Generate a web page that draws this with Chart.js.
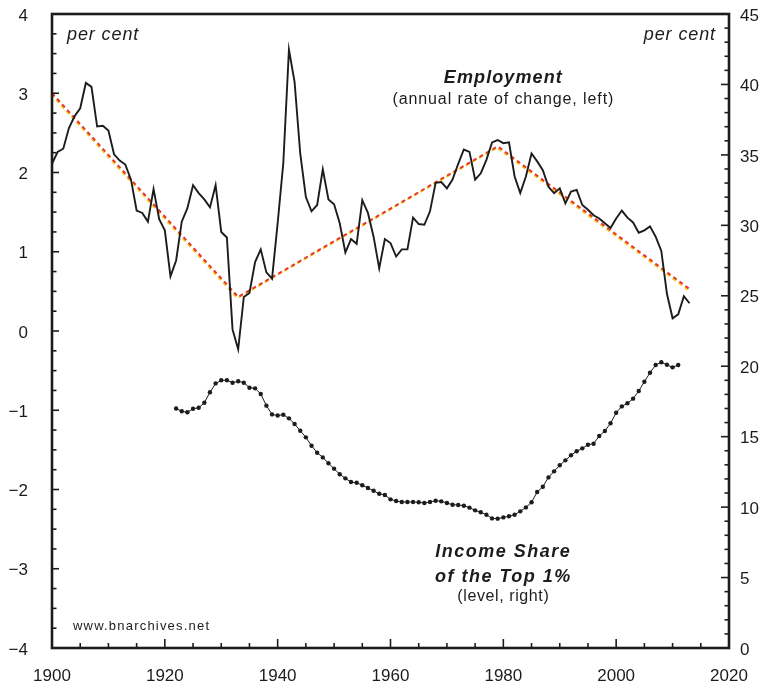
<!DOCTYPE html>
<html>
<head>
<meta charset="utf-8">
<title>Employment and Income Share of the Top 1%</title>
<script src="https://cdn.jsdelivr.net/npm/chart.js@4.4.1/dist/chart.umd.min.js"></script>
<style>
  html, body { margin: 0; padding: 0; background: #fff; }
  #wrap { width: 769px; height: 684px; }
</style>
</head>
<body>
<div id="wrap"><canvas id="chart" width="769" height="684"></canvas></div>
<script>
// Employment, annual rate of change (left axis, per cent), 1900-2013
const employmentStart = 1900;
const employment = [
  2.11, 2.26, 2.30, 2.56, 2.71, 2.81, 3.13, 3.08, 2.58, 2.59,
  2.53, 2.23, 2.15, 2.10, 1.91, 1.52, 1.49, 1.38, 1.79, 1.41,
  1.27, 0.69, 0.89, 1.38, 1.55, 1.84, 1.74, 1.66, 1.56, 1.84,
  1.25, 1.18, 0.02, -0.23, 0.43, 0.48, 0.87, 1.03, 0.74, 0.66,
  1.36, 2.12, 3.55, 3.14, 2.24, 1.69, 1.51, 1.59, 2.04, 1.66,
  1.60, 1.36, 0.99, 1.16, 1.10, 1.65, 1.49, 1.19, 0.79, 1.16,
  1.11, 0.94, 1.03, 1.03, 1.43, 1.35, 1.34, 1.51, 1.87, 1.88,
  1.80, 1.91, 2.11, 2.29, 2.26, 1.91, 1.99, 2.16, 2.38, 2.41,
  2.37, 2.38, 1.95, 1.74, 1.95, 2.24, 2.14, 2.03, 1.82, 1.74,
  1.80, 1.61, 1.76, 1.78, 1.59, 1.53, 1.46, 1.42, 1.36, 1.30,
  1.42, 1.52, 1.43, 1.37, 1.24, 1.27, 1.32, 1.19, 1.01, 0.47,
  0.16, 0.21, 0.44, 0.35
];

// Income share of the top 1% (right axis, per cent), 1922-2011
const incomeStart = 1922;
const incomeShare = [
  17.0, 16.8, 16.73, 16.98, 17.05, 17.41, 18.15, 18.78,
  19.0, 19.0, 18.83, 18.93, 18.83, 18.47, 18.43, 18.03, 17.2, 16.58,
  16.5, 16.56, 16.3, 15.9, 15.42, 14.95, 14.36, 13.86, 13.53, 13.11,
  12.73, 12.33, 12.04, 11.78, 11.73, 11.55, 11.36, 11.16, 10.95, 10.86,
  10.55, 10.43, 10.36, 10.36, 10.36, 10.34, 10.29, 10.36, 10.45, 10.41,
  10.29, 10.17, 10.15, 10.1, 9.96, 9.77, 9.63, 9.46, 9.2, 9.18,
  9.27, 9.35, 9.46, 9.7, 9.98, 10.34, 11.07, 11.45, 12.11, 12.54,
  12.97, 13.32, 13.68, 13.96, 14.17, 14.43, 14.5, 15.05, 15.4, 15.95,
  16.7, 17.15, 17.37, 17.7, 18.24, 18.9, 19.54, 20.09, 20.28, 20.1,
  19.92, 20.09
];

// Employment trend (dashed), turning points
const trendYears = [1900, 1933, 1979, 2013];
const trendValues = [3.0, 0.43, 2.33, 0.53];

const INK = '#1c1c1c';
const FONT = '"Liberation Sans", Arial, Helvetica, sans-serif';

const series = (start, values) => values.map((v, i) => ({ x: start + i, y: v }));
const trend = trendYears.map((yr, i) => ({ x: yr, y: trendValues[i] }));
const minus = v => (v < 0 ? '\u2212' + Math.abs(v) : String(v));

// frame, inward tick marks and text labels
const decorations = {
  id: 'decorations',
  beforeDatasetDraw(chart, args) {
    // yellow half of the two-tone dashed trend sits slightly below the red one
    if (args.index === 3) {
      chart.ctx.save();
      chart.ctx.translate(-0.8, 1.2);
    }
  },
  afterDatasetDraw(chart, args) {
    if (args.index === 3) chart.ctx.restore();
  },
  afterDraw(chart) {
    const { ctx, chartArea: a, scales } = chart;
    const { x, yL, yR } = scales;
    const seg = (x1, y1, x2, y2) => {
      ctx.beginPath(); ctx.moveTo(x1, y1); ctx.lineTo(x2, y2); ctx.stroke();
    };

    ctx.save();
    ctx.strokeStyle = INK;
    ctx.lineWidth = 1.6;
    for (let yr = 1905; yr < 2020; yr += 5) {
      const px = x.getPixelForValue(yr);
      seg(px, a.bottom, px, a.bottom - (yr % 20 === 0 ? 9 : 5));
    }
    for (let v = -3.75; v < 4; v += 0.25) {
      const py = yL.getPixelForValue(v);
      seg(a.left, py, a.left + (Number.isInteger(v) ? 7 : 4.5), py);
    }
    for (let v = 1; v < 45; v++) {
      const py = yR.getPixelForValue(v);
      seg(a.right, py, a.right - (v % 5 === 0 ? 8 : 4.5), py);
    }

    ctx.lineWidth = 2.6;
    ctx.strokeRect(a.left, a.top, a.width, a.height);

    ctx.fillStyle = INK;
    ctx.textBaseline = 'alphabetic';

    ctx.font = 'italic 18px ' + FONT;
    ctx.letterSpacing = '0.9px';
    ctx.textAlign = 'left';
    ctx.fillText('per cent', a.left + 15, a.top + 26);
    ctx.textAlign = 'right';
    ctx.fillText('per cent', a.right - 13, a.top + 26);

    ctx.textAlign = 'center';
    const cx = x.getPixelForValue(1980);
    ctx.font = 'bold italic 18px ' + FONT;
    ctx.letterSpacing = '1.1px';
    ctx.fillText('Employment', cx, yL.getPixelForValue(3.13));
    ctx.font = '16px ' + FONT;
    ctx.letterSpacing = '0.9px';
    ctx.fillText('(annual rate of change, left)', cx, yL.getPixelForValue(2.86));

    ctx.font = 'bold italic 18px ' + FONT;
    ctx.letterSpacing = '1.5px';
    ctx.fillText('Income Share', cx, yR.getPixelForValue(6.46));
    ctx.fillText('of the Top 1%', cx, yR.getPixelForValue(4.72));
    ctx.font = '16px ' + FONT;
    ctx.letterSpacing = '0.6px';
    ctx.fillText('(level, right)', cx, yR.getPixelForValue(3.34));

    ctx.font = '13px ' + FONT;
    ctx.letterSpacing = '1.2px';
    ctx.textAlign = 'left';
    ctx.fillText('www.bnarchives.net', a.left + 21, a.bottom - 18);
    ctx.restore();
  }
};

const tickFont = { family: FONT, size: 17 };

// fixed axis boxes so the plot frame lands where the original has it
const fitVertical = width => s => {
  s.width = width;
  s.paddingTop = 0;
  s.paddingBottom = 0;
};

new Chart(document.getElementById('chart'), {
  type: 'line',
  data: {
    datasets: [
      {
        label: 'Employment',
        data: series(employmentStart, employment),
        yAxisID: 'yL',
        borderColor: INK,
        borderWidth: 1.9,
        pointRadius: 0,
        tension: 0
      },
      {
        label: 'Income Share of the Top 1%',
        data: series(incomeStart, incomeShare),
        yAxisID: 'yR',
        borderColor: INK,
        borderWidth: 1,
        pointRadius: 2.2,
        pointBackgroundColor: INK,
        pointBorderWidth: 0,
        tension: 0
      },
      {
        label: 'Trend',
        data: trend,
        yAxisID: 'yL',
        borderColor: '#e6362a',
        borderWidth: 2,
        borderDash: [4, 3.5],
        pointRadius: 0
      },
      {
        label: 'Trend shade',
        data: trend,
        yAxisID: 'yL',
        borderColor: '#f8c81a',
        borderWidth: 2,
        borderDash: [4, 3.5],
        pointRadius: 0
      }
    ]
  },
  options: {
    responsive: false,
    animation: false,
    layout: { padding: { top: 14, right: 0, bottom: 0, left: 0 } },
    plugins: {
      legend: { display: false },
      tooltip: { enabled: false }
    },
    scales: {
      x: {
        type: 'linear',
        min: 1900,
        max: 2020,
        grid: { display: false, drawTicks: false },
        border: { display: false },
        ticks: { stepSize: 20, padding: 18, color: INK, font: tickFont, callback: v => String(v) },
        afterFit: s => {
          s.height = 36;
          s.paddingLeft = 0;
          s.paddingRight = 0;
        }
      },
      yL: {
        position: 'left',
        min: -4,
        max: 4,
        grid: { display: false, drawTicks: false },
        border: { display: false },
        ticks: { stepSize: 1, padding: 24, labelOffset: 2, color: INK, font: tickFont, callback: minus },
        afterFit: fitVertical(52)
      },
      yR: {
        position: 'right',
        min: 0,
        max: 45,
        grid: { display: false, drawTicks: false },
        border: { display: false },
        ticks: { stepSize: 5, padding: 11, labelOffset: 2, color: INK, font: tickFont },
        afterFit: fitVertical(40)
      }
    }
  },
  plugins: [decorations]
});
</script>
</body>
</html>
